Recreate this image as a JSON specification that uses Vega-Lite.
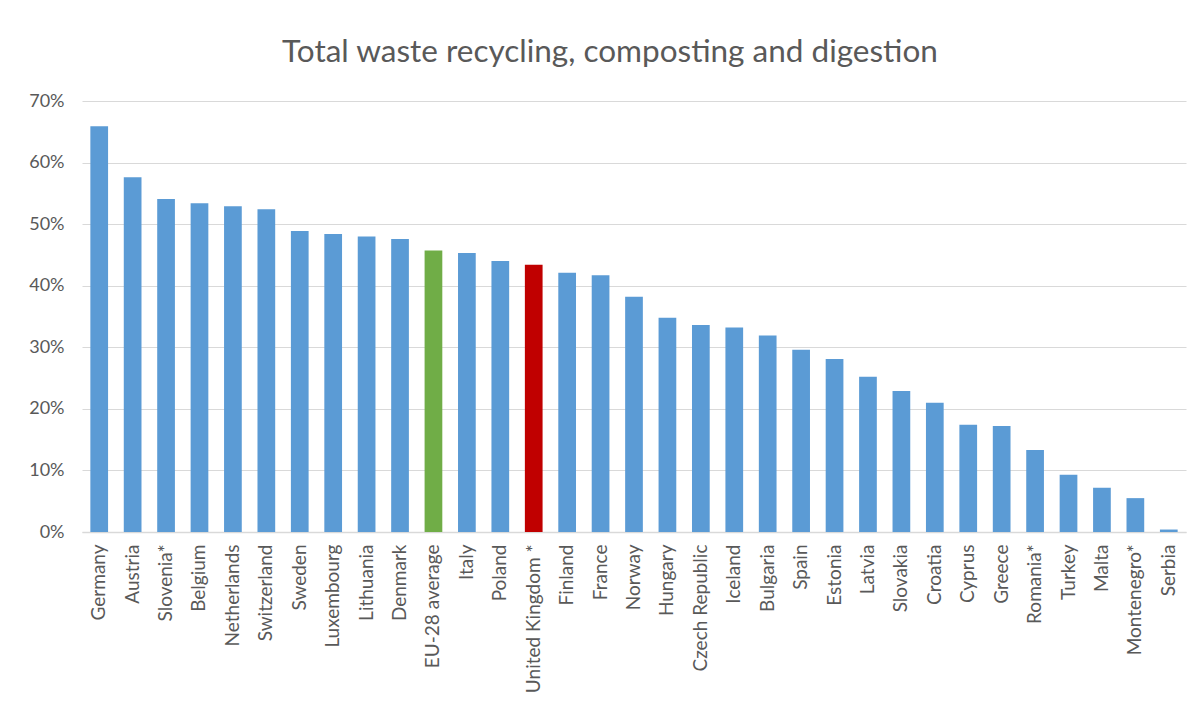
{
  "$schema": "https://vega.github.io/schema/vega-lite/v6.json",
  "width": 1104,
  "height": 431,
  "autosize": {"type": "none"},
  "padding": {"left": 82, "top": 101, "right": 17, "bottom": 178},
  "background": "white",
  "title": {
    "text": "Total waste recycling, composting and digestion",
    "font": "Lato",
    "fontSize": 31.5,
    "fontWeight": "normal",
    "color": "#595959",
    "anchor": "middle",
    "offset": 24,
    "dx": -24
  },
  "data": {
    "values": [
      {"country": "Germany", "value": 65.9, "group": "country"},
      {"country": "Austria", "value": 57.6, "group": "country"},
      {"country": "Slovenia*", "value": 54.1, "group": "country"},
      {"country": "Belgium", "value": 53.4, "group": "country"},
      {"country": "Netherlands", "value": 52.9, "group": "country"},
      {"country": "Switzerland", "value": 52.4, "group": "country"},
      {"country": "Sweden", "value": 48.9, "group": "country"},
      {"country": "Luxembourg", "value": 48.4, "group": "country"},
      {"country": "Lithuania", "value": 48.0, "group": "country"},
      {"country": "Denmark", "value": 47.6, "group": "country"},
      {"country": "EU-28 average", "value": 45.7, "group": "eu"},
      {"country": "Italy", "value": 45.3, "group": "country"},
      {"country": "Poland", "value": 44.0, "group": "country"},
      {"country": "United Kingdom *", "value": 43.4, "group": "uk"},
      {"country": "Finland", "value": 42.1, "group": "country"},
      {"country": "France", "value": 41.7, "group": "country"},
      {"country": "Norway", "value": 38.2, "group": "country"},
      {"country": "Hungary", "value": 34.8, "group": "country"},
      {"country": "Czech Republic", "value": 33.6, "group": "country"},
      {"country": "Iceland", "value": 33.2, "group": "country"},
      {"country": "Bulgaria", "value": 31.9, "group": "country"},
      {"country": "Spain", "value": 29.6, "group": "country"},
      {"country": "Estonia", "value": 28.1, "group": "country"},
      {"country": "Latvia", "value": 25.2, "group": "country"},
      {"country": "Slovakia", "value": 22.9, "group": "country"},
      {"country": "Croatia", "value": 21.0, "group": "country"},
      {"country": "Cyprus", "value": 17.4, "group": "country"},
      {"country": "Greece", "value": 17.2, "group": "country"},
      {"country": "Romania*", "value": 13.3, "group": "country"},
      {"country": "Turkey", "value": 9.3, "group": "country"},
      {"country": "Malta", "value": 7.2, "group": "country"},
      {"country": "Montenegro*", "value": 5.5, "group": "country"},
      {"country": "Serbia", "value": 0.4, "group": "country"}
    ]
  },
  "mark": {"type": "bar"},
  "encoding": {
    "x": {
      "field": "country",
      "type": "nominal",
      "sort": null,
      "scale": {"paddingInner": 0.47, "paddingOuter": 0.25},
      "axis": {
        "title": null,
        "labelAngle": -90,
        "labelFont": "Lato",
        "labelFontSize": 19,
        "labelColor": "#595959",
        "labelPadding": 12,
        "ticks": false,
        "domainColor": "#D9D9D9",
        "domainWidth": 1.5,
        "labelOverlap": false
      }
    },
    "y": {
      "field": "value",
      "type": "quantitative",
      "scale": {"domain": [0, 70]},
      "axis": {
        "title": null,
        "values": [0, 10, 20, 30, 40, 50, 60, 70],
        "labelExpr": "datum.value + '%'",
        "labelFont": "Lato",
        "labelFontSize": 18,
        "labelColor": "#595959",
        "labelPadding": 18,
        "ticks": false,
        "domain": false,
        "gridColor": "#D9D9D9",
        "gridWidth": 1.2
      }
    },
    "color": {
      "field": "group",
      "type": "nominal",
      "scale": {"domain": ["country", "eu", "uk"], "range": ["#5B9BD5", "#70AD47", "#C00000"]},
      "legend": null
    }
  },
  "config": {"view": {"stroke": null}}
}
